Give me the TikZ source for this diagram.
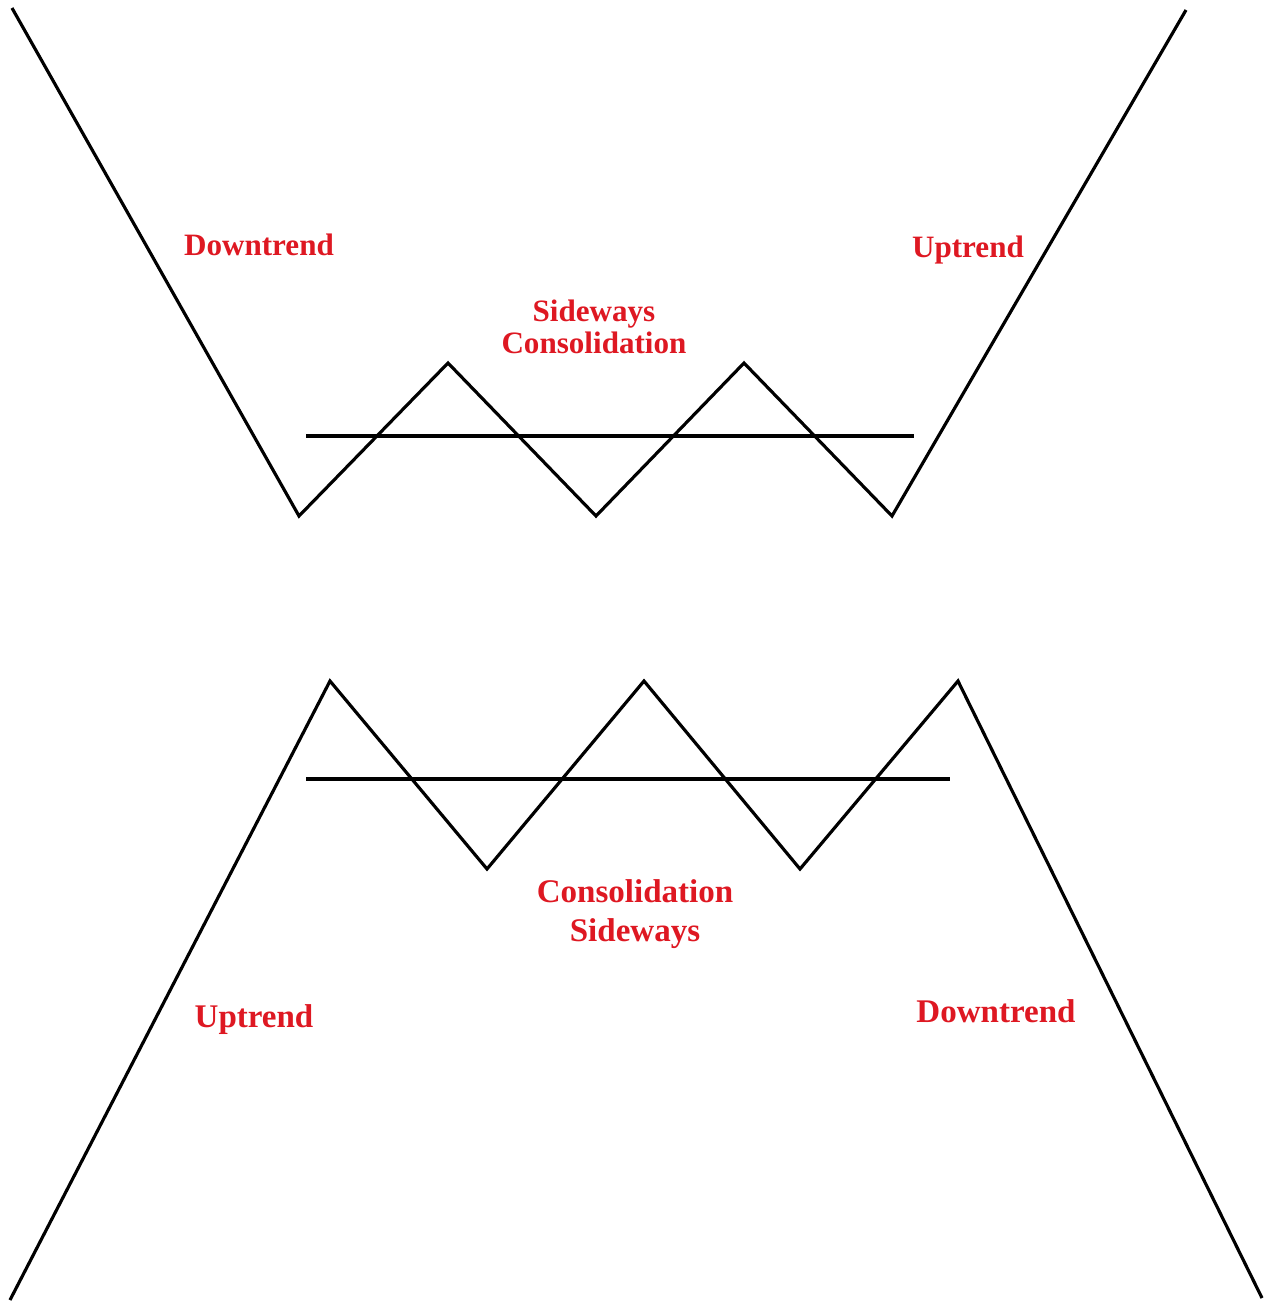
\documentclass[tikz,border=0pt]{standalone}
\usepackage{fontspec}
\setmainfont{Liberation Serif}
\usepackage{tikz}
\definecolor{trendred}{RGB}{222,24,34}
\tikzset{
  trend/.style={line width=1.8pt,black,line join=miter},
  lbl/.style={text=trendred,font=\bfseries\fontsize{17.7}{18.2}\selectfont,align=center,inner sep=0pt},
  lblb/.style={text=trendred,font=\bfseries\fontsize{18.8}{22.2}\selectfont,align=center,inner sep=0pt}
}

\begin{document}
\begin{tikzpicture}[x=0.02cm,y=-0.02cm]
\useasboundingbox (0,0) rectangle (1271,1302);
% upper picture: downtrend, range, uptrend
\coordinate (t0) at (12,8);
\coordinate (t1) at (299,516);
\coordinate (t2) at (448,363);
\coordinate (t3) at (596,516);
\coordinate (t4) at (744,363);
\coordinate (t5) at (892,516);
\coordinate (t6) at (1186,10);
\coordinate (ta) at (306,436);
\coordinate (tb) at (914,436);
\draw[trend] (t0) -- (t1) -- (t2) -- (t3) -- (t4) -- (t5) -- (t6);
\draw[trend] (ta) -- (tb);
\node[lbl] (down1) at (259,245) {Downtrend};
\node[lbl] (up1) at (968,250) {Uptrend};
\node[lbl] (side1) at (594,327) {Sideways\\Consolidation};
% lower picture: uptrend, range, downtrend
\coordinate (b0) at (10,1300);
\coordinate (b1) at (330,681);
\coordinate (b2) at (487,869);
\coordinate (b3) at (644,681);
\coordinate (b4) at (800,869);
\coordinate (b5) at (958,681);
\coordinate (b6) at (1262,1298);
\coordinate (ba) at (306,779);
\coordinate (bb) at (950,779);
\draw[trend] (b0) -- (b1) -- (b2) -- (b3) -- (b4) -- (b5) -- (b6);
\draw[trend] (ba) -- (bb);
\node[lblb] (up2) at (254,1020) {Uptrend};
\node[lblb] (down2) at (996,1011) {Downtrend};
\node[lblb] (side2) at (635,914) {Consolidation\\Sideways};
\end{tikzpicture}
\end{document}
